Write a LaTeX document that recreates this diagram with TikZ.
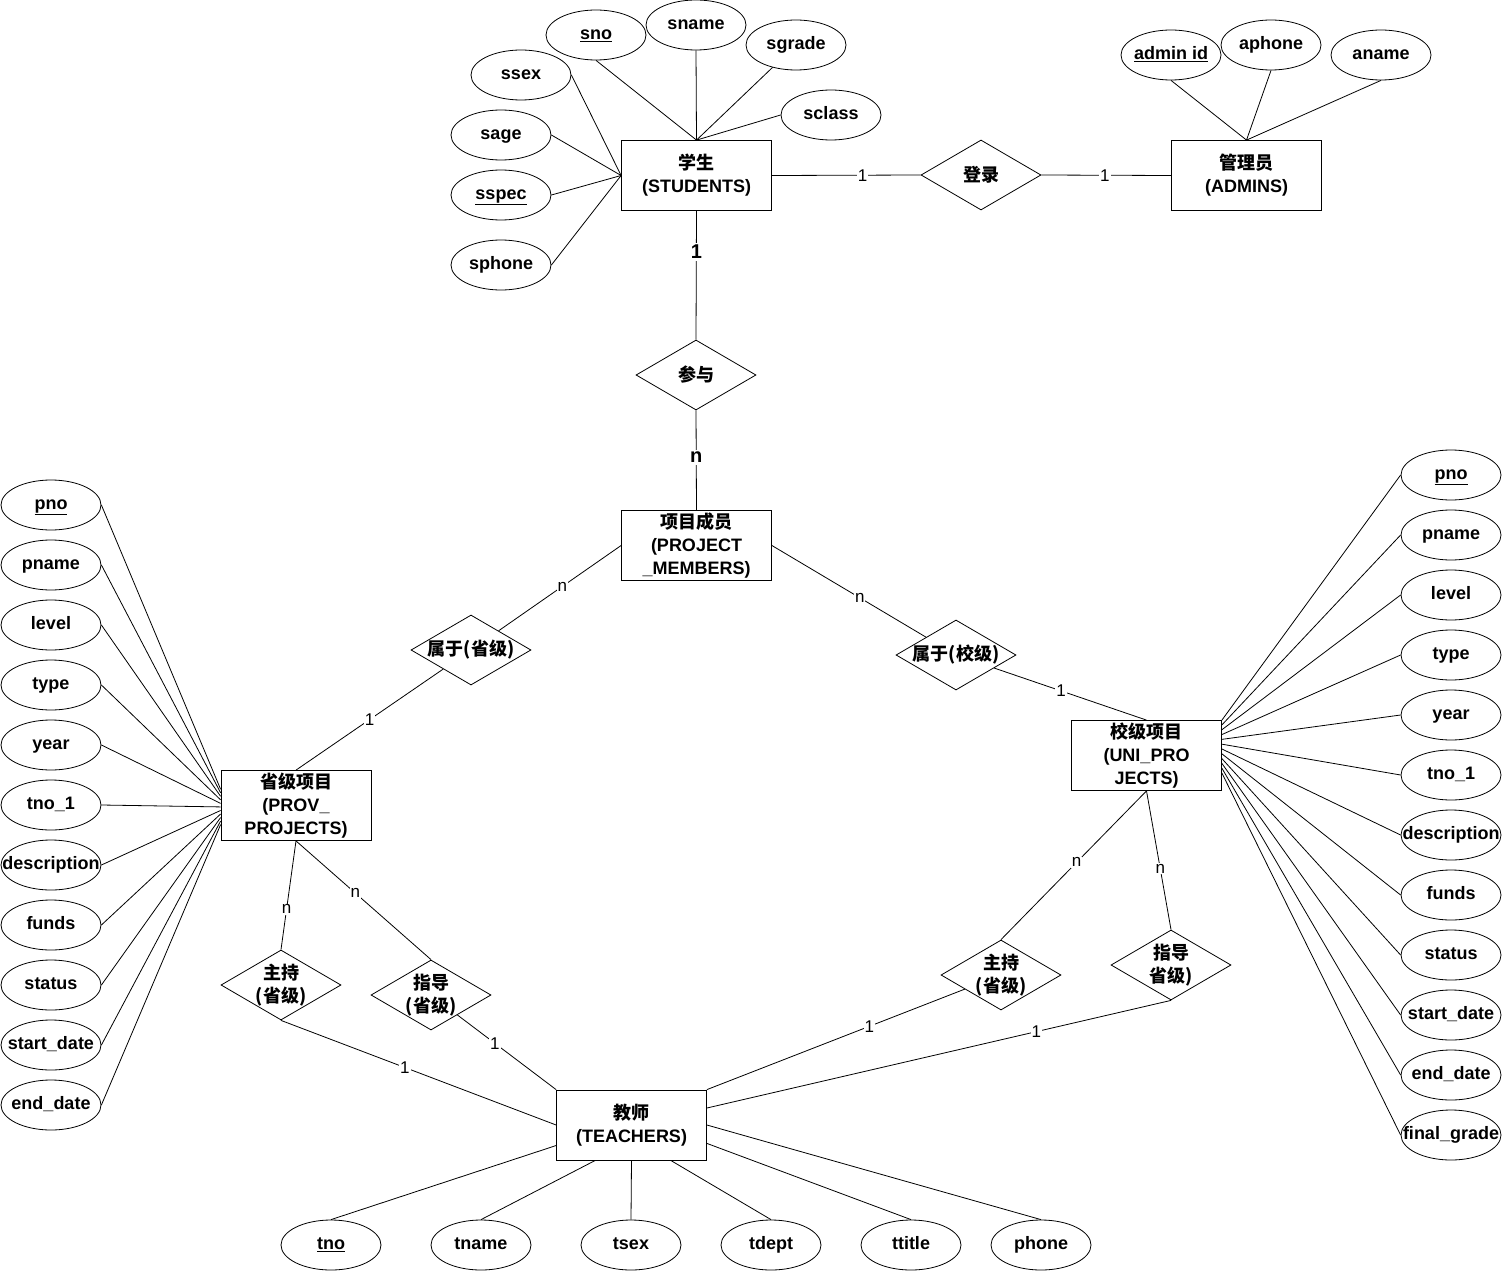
\documentclass[tikz,border=0pt]{standalone}
\usepackage{fontspec}
\setmainfont{Liberation Sans}
\newfontfamily\cjkfont{Noto Sans CJK SC}
\newcommand\zh[1]{{\cjkfont #1}}
\usetikzlibrary{shapes.geometric,calc}

\begin{document}
\begin{tikzpicture}[x=1pt,y=-1pt,line width=0.8pt,
  every node/.style={font=\fontsize{18}{23}\selectfont\bfseries},
  ent/.style={draw,rectangle,minimum width=150,minimum height=70,inner sep=0pt,align=center},
  attr/.style={ellipse,draw,minimum width=100,minimum height=50,inner sep=0pt,
    label={[text height=13pt,text depth=4pt,inner sep=0pt]center:#1}},
  rel/.style={diamond,draw,minimum width=120,minimum height=70,inner sep=0pt,label={[align=center]center:#1}},
  lab/.style={fill=white,inner sep=1pt,font=\fontsize{17}{17}\selectfont\mdseries},
  blab/.style={fill=white,inner sep=2pt,font=\fontsize{20}{20}\selectfont\bfseries}]
\fill[white] (0,0) rectangle (1502,1271);
\useasboundingbox (0,0) rectangle (1502,1271);

\node[ent] (stud) at (696.5,175.5) {\zh{学生}\\(STUDENTS)};
\node[ent] (adm) at (1246.5,175.5) {\zh{管理员}\\(ADMINS)};
\node[ent] (pm) at (696.5,545.5) {\zh{项目成员}\\(PROJECT\\\_MEMBERS)};
\node[ent] (prov) at (296,805.5) {\zh{省级项目}\\(PROV\_\\PROJECTS)};
\node[ent] (uni) at (1146.5,755.5) {\zh{校级项目}\\(UNI\_PRO\\JECTS)};
\node[ent] (tea) at (631.5,1125) {\zh{教师}\\(TEACHERS)};

\node[rel=\zh{登录}] (login) at (981,175) {};
\node[rel=\zh{参与}] (take) at (696,375) {};
\node[rel=\zh{属于(省级)}] (inprov) at (471,650) {};
\node[rel=\zh{属于(校级)}] (inuni) at (956,655) {};
\node[rel={\zh{主持}\\\zh{(省级)}}] (hostp) at (281,985) {};
\node[rel={\zh{指导}\\\zh{(省级)}}] (guidep) at (431,995) {};
\node[rel={\zh{主持}\\\zh{(省级)}}] (hostu) at (1001,975) {};
\node[rel={\zh{指导}\\\zh{省级)}}] (guideu) at (1171,965) {};

\node[attr=\underline{sno}] (sno) at (596,35) {};
\node[attr=sname] (sname) at (696,25) {};
\node[attr=sgrade] (sgrade) at (796,45) {};
\node[attr=sclass] (sclass) at (831,115) {};
\node[attr=ssex] (ssex) at (521,75) {};
\node[attr=sage] (sage) at (501,135) {};
\node[attr=\underline{sspec}] (sspec) at (501,195) {};
\node[attr=sphone] (sphone) at (501,265) {};
\node[attr=\underline{admin id}] (aid) at (1171,55) {};
\node[attr=aphone] (aphone) at (1271,45) {};
\node[attr=aname] (aname) at (1381,55) {};

\foreach \a [count=\i from 0] in {\underline{pno},pname,level,type,year,tno\_1,description,funds,status,start\_date,end\_date}
  \node[attr=\a] (pl\i) at (51,505+60*\i) {};
\foreach \a [count=\i from 0] in {\underline{pno},pname,level,type,year,tno\_1,description,funds,status,start\_date,end\_date,final\_grade}
  \node[attr=\a] (pr\i) at (1451,475+60*\i) {};
\foreach \a/\x [count=\i] in {\underline{tno}/331,tname/481,tsex/631,tdept/771,ttitle/911,phone/1041}
  \node[attr=\a] (ta\i) at (\x,1245) {};

\foreach \n in {sno,sname} \draw (\n.south) -- (stud.north);
\draw (sgrade) -- (stud.north);
\draw (sclass.west) -- (stud.north);
\foreach \n in {ssex,sage,sspec,sphone} \draw (\n.east) -- (stud.west);
\foreach \n in {aid,aphone,aname} \draw (\n.south) -- (adm.north);

\foreach \i in {0,...,10}
  \draw (pl\i.east) -- ($(prov.north west)!{0.27+0.05*\i}!(prov.south west)$);
\foreach \i in {0,...,11}
  \draw (pr\i.west) -- ($(uni.north east)!{0.068*\i}!(uni.south east)$);

\draw (ta1.north) -- ($(tea.north west)!0.79!(tea.south west)$);
\draw (ta2.north) -- ($(tea.south west)!0.26!(tea.south east)$);
\draw (ta3.north) -- (tea.south);
\draw (ta4.north) -- ($(tea.south west)!0.76!(tea.south east)$);
\draw (ta5.north) -- ($(tea.north east)!0.76!(tea.south east)$);
\draw (ta6.north) -- (tea.east);

\draw (stud.east) -- node[lab,pos=0.61] {1} (login.west);
\draw (login.east) -- node[lab,pos=0.49] {1} (adm.west);
\draw (stud.south) -- node[blab,pos=0.32] {1} (take.north);
\draw (take.south) -- node[blab,pos=0.47] {n} (pm.north);
\draw (pm.west) -- node[lab,pos=0.48] {n} (inprov);
\draw (inprov) -- node[lab,pos=0.5] {1} (prov.north);
\draw (pm.east) -- node[lab,pos=0.57] {n} (inuni);
\draw (inuni) -- node[lab,pos=0.44] {1} (uni.north);
\draw (prov.south) -- node[lab,pos=0.63] {n} (hostp.north);
\draw (prov.south) -- node[lab,pos=0.44] {n} (guidep.north);
\draw (uni.south) -- node[lab,pos=0.48] {n} (hostu.north);
\draw (uni.south) -- node[lab,pos=0.56] {n} (guideu.north);
\draw (hostp.south) -- node[lab,pos=0.45] {1} (tea.west);
\draw (guidep) -- node[lab,pos=0.38] {1} (tea.north west);
\draw (hostu) -- node[lab,pos=0.37] {1} (tea.north east);
\draw (guideu.south) -- node[lab,pos=0.29] {1} ($(tea.north east)!0.26!(tea.south east)$);
\end{tikzpicture}
\end{document}
